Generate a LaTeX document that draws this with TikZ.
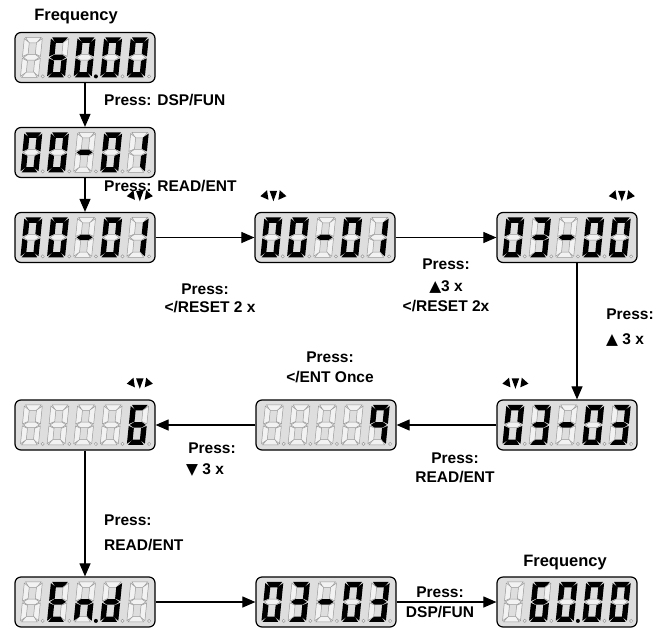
\documentclass[tikz,border=0pt]{standalone}
\usepackage{fontspec}
\setmainfont{Liberation Sans}
\newfontfamily\symf{DejaVu Sans}
\usetikzlibrary{arrows.meta,calc}
\tikzset{
  segon/.style={fill=black},
  segoff/.style={fill=black!5,draw=black!40,line width=0.5pt},
  dispbox/.style={draw=black,line width=1.2pt,rounded corners=6pt,fill=black!13,minimum width=140pt,minimum height=50pt,inner sep=0pt},
  conn/.style={line width=1.1pt,-{Triangle[length=13pt,width=11pt]}},
  lbl/.style={font=\fontsize{15.5}{18}\selectfont\bfseries,inner sep=0pt},
  frq/.style={font=\fontsize{16.5}{19}\selectfont\bfseries,inner sep=0pt},
}
\makeatletter
\newcommand\segdraw[3]{\in@{#1}{#2}\ifin@\fill[segon] #3;\else\filldraw[segoff] #3;\fi}
\makeatother
\newcommand\sevdig[4]{%
  \begin{scope}[shift={($(#1.north west)+(10+26.6*#2,5.5)$)},xslant=0.1]
    \segdraw{a}{#3}{(1.2,0)--(16.8,0)--(13,5.4)--(5,5.4)--cycle}
    \segdraw{b}{#3}{(18,1.2)--(18,19)--(12.6,16.6)--(12.6,5.2)--cycle}
    \segdraw{c}{#3}{(18,21)--(18,38.8)--(12.6,34.8)--(12.6,23.4)--cycle}
    \segdraw{d}{#3}{(1.2,40)--(16.8,40)--(13,34.6)--(5,34.6)--cycle}
    \segdraw{e}{#3}{(0,21)--(5.4,23.4)--(5.4,34.8)--(0,38.8)--cycle}
    \segdraw{f}{#3}{(0,1.2)--(5.4,5.2)--(5.4,16.6)--(0,19)--cycle}
    \segdraw{g}{#3}{(1,20)--(5,17.3)--(13,17.3)--(17,20)--(13,22.7)--(5,22.7)--cycle}
  \end{scope}
  \ifnum#2=#4\relax
    \fill[segon] ($(#1.north west)+(28.3+26.6*#2,44.5)$) circle[radius=2pt];
  \else
    \filldraw[segoff] ($(#1.north west)+(28.3+26.6*#2,44.5)$) circle[radius=1.6pt];
  \fi
}
\newcommand\dispdigits[7]{%
  \sevdig{#1}{0}{#2}{#7}\sevdig{#1}{1}{#3}{#7}\sevdig{#1}{2}{#4}{#7}%
  \sevdig{#1}{3}{#5}{#7}\sevdig{#1}{4}{#6}{#7}}
\newcommand\blinkmark[2]{%
  \begin{scope}[shift={($(#1.north west)+(19+26.6*#2,-15)$)},scale=1.45]
    \fill (-2.6,-4.2)--(2.6,-4.2)--(0,3)--cycle;
    \fill (-4.4,-4.6)--(-3.4,2)--(-9,-0.5)--cycle;
    \fill (4.4,-4.6)--(3.4,2)--(9,-0.5)--cycle;
  \end{scope}}
\begin{document}
\begin{tikzpicture}[x=1pt,y=-1pt]
\useasboundingbox (0,0) rectangle (663,629);
% displays
\node[dispbox] (d1) at (85,57.5) {};
\node[dispbox] (d2) at (85,152.5) {};
\node[dispbox] (d3) at (85,237.5) {};
\node[dispbox] (d4) at (325,237.5) {};
\node[dispbox] (d5) at (567,237.5) {};
\node[dispbox] (d6) at (85,425) {};
\node[dispbox] (d7) at (326,425) {};
\node[dispbox] (d8) at (567,425) {};
\node[dispbox] (d9) at (85,602) {};
\node[dispbox] (d10) at (326,602) {};
\node[dispbox] (d11) at (567,602) {};
% digits
\dispdigits{d1}{}{acdefg}{abcdef}{abcdef}{abcdef}{2}
\dispdigits{d2}{abcdef}{abcdef}{g}{abcdef}{bc}{-1}
\dispdigits{d3}{abcdef}{abcdef}{g}{abcdef}{bc}{-1}
\dispdigits{d4}{abcdef}{abcdef}{g}{abcdef}{bc}{-1}
\dispdigits{d5}{abcdef}{abcdg}{g}{abcdef}{abcdef}{-1}
\dispdigits{d6}{}{}{}{}{acdefg}{-1}
\dispdigits{d7}{}{}{}{}{abcfg}{-1}
\dispdigits{d8}{abcdef}{abcdg}{g}{abcdef}{abcdg}{-1}
\dispdigits{d9}{}{adefg}{ceg}{bcdeg}{}{2}
\dispdigits{d10}{abcdef}{abcdg}{g}{abcdef}{abcdg}{-1}
\dispdigits{d11}{}{acdefg}{abcdef}{abcdef}{abcdef}{2}
% blink marks
\blinkmark{d3}{4}
\blinkmark{d4}{0}
\blinkmark{d5}{4}
\blinkmark{d6}{4}
\blinkmark{d8}{0}
% connectors
\draw[conn] (d1) -- (d2);
\draw[conn] (d2) -- (d3);
\draw[conn] (d3) -- (d4);
\draw[conn] (d4) -- (d5);
\draw[conn] ([xshift=10pt]d5.south) -- ([xshift=10pt]d8.north);
\draw[conn] (d8) -- (d7);
\draw[conn] (d7) -- (d6);
\draw[conn] (d6) -- (d9);
\draw[conn] (d9) -- (d10);
\draw[conn] (d10) -- (d11);
% labels
\node[frq] (f1) at (76,17) {Frequency};
\node[frq] (f2) at (565,563) {Frequency};
\node[lbl,anchor=west] (l1) at (104,100) {Press: DSP/FUN};
\node[lbl,anchor=west] (l2) at (104,186) {Press: READ/ENT};
\node[lbl] (l3a) at (205,289) {Press:};
\node[lbl] (l3b) at (210,307) {</RESET 2 x};
\node[lbl] (l4a) at (446,264) {Press:};
\node[lbl] (l4b) at (446,287) {{\symf ▲}3 x};
\node[lbl] (l4c) at (446,306) {</RESET 2x};
\node[lbl] (l5a) at (630,314) {Press:};
\node[lbl] (l5b) at (625,340) {{\symf ▲} 3 x};
\node[lbl] (l6a) at (330,357) {Press:};
\node[lbl] (l6b) at (330,377) {</ENT Once};
\node[lbl] (l7a) at (455,458) {Press:};
\node[lbl] (l7b) at (455,477) {READ/ENT};
\node[lbl] (l8a) at (212,448) {Press:};
\node[lbl] (l8b) at (205,470) {{\symf ▼} 3 x};
\node[lbl,anchor=west] (l9a) at (104,520) {Press:};
\node[lbl,anchor=west] (l9b) at (104,545) {READ/ENT};
\node[lbl] (l10a) at (440,592) {Press:};
\node[lbl] (l10b) at (440,612) {DSP/FUN};
\end{tikzpicture}
\end{document}
